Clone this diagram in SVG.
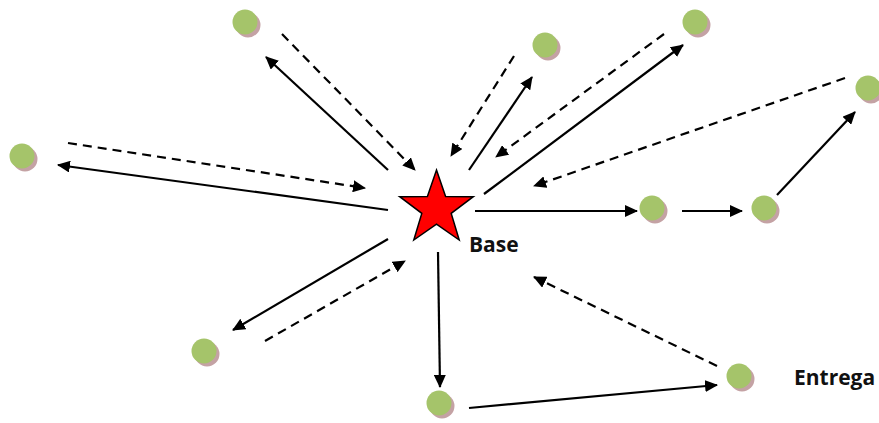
<svg xmlns="http://www.w3.org/2000/svg" width="879" height="423" viewBox="0 0 879 423">
<style>
.sh{fill:#C4A2A4}
.dot{fill:#A5C46A}
.ln{stroke:#000;stroke-width:2.2;fill:none;marker-end:url(#ah)}
.ds{stroke-dasharray:9 6}
.lbl{font-family:"Open Sans","Liberation Sans",sans-serif;font-weight:bold;font-size:21px;fill:#111}
</style>
<defs>
<marker id="ah" viewBox="0 0 13 12" refX="12" refY="6" markerWidth="13" markerHeight="12" markerUnits="userSpaceOnUse" orient="auto">
<path d="M0,0 L13,6 L0,12 z" fill="#000"/>
</marker>
</defs>
<rect width="879" height="423" fill="#fff"/>
<g id="connectors">
<line class="ln" x1="388" y1="170" x2="266" y2="57"/>
<line class="ln ds" x1="282" y1="34" x2="415" y2="170"/>
<line class="ln ds" x1="514" y1="56" x2="451" y2="156"/>
<line class="ln" x1="469" y1="170" x2="532" y2="77"/>
<line class="ln ds" x1="664" y1="34" x2="496" y2="157"/>
<line class="ln" x1="484" y1="194" x2="683" y2="45"/>
<line class="ln ds" x1="845" y1="78" x2="534" y2="186"/>
<line class="ln" x1="777" y1="195" x2="855" y2="112"/>
<line class="ln ds" x1="68" y1="143" x2="365" y2="188"/>
<line class="ln" x1="388" y1="210" x2="58" y2="165"/>
<line class="ln" x1="388" y1="239" x2="233" y2="330"/>
<line class="ln ds" x1="265" y1="341" x2="405" y2="261"/>
<line class="ln" x1="438" y1="252" x2="440" y2="387"/>
<line class="ln" x1="469" y1="408" x2="717" y2="385"/>
<line class="ln ds" x1="717" y1="366" x2="534" y2="277"/>
<line class="ln" x1="475" y1="211" x2="637" y2="211"/>
<line class="ln" x1="682" y1="211" x2="742" y2="211"/>
</g>
<g id="base">
<polygon points="436.5,170 445.6,196.4 473.3,196.7 451.2,213.4 459.2,240 436.5,224.1 413.8,240 421.8,213.4 399.7,196.7 427.4,196.4" fill="#FF0000" stroke="#000" stroke-width="1.5" stroke-linejoin="miter"/>
<text class="lbl" x="469" y="252">Base</text>
</g>
<g id="n1"><circle class="sh" cx="248" cy="25" r="12.5"/><circle class="dot" cx="245" cy="22" r="12.5"/></g>
<g id="n2"><circle class="sh" cx="548" cy="48" r="12.5"/><circle class="dot" cx="545" cy="45" r="12.5"/></g>
<g id="n3"><circle class="sh" cx="698" cy="25" r="12.5"/><circle class="dot" cx="695" cy="22" r="12.5"/></g>
<g id="n4"><circle class="sh" cx="871" cy="91" r="12.5"/><circle class="dot" cx="868" cy="88" r="12.5"/></g>
<g id="n5"><circle class="sh" cx="25" cy="159" r="12.5"/><circle class="dot" cx="22" cy="156" r="12.5"/></g>
<g id="n6"><circle class="sh" cx="655" cy="211" r="12.5"/><circle class="dot" cx="652" cy="208" r="12.5"/></g>
<g id="n7"><circle class="sh" cx="767" cy="211" r="12.5"/><circle class="dot" cx="764" cy="208" r="12.5"/></g>
<g id="n8"><circle class="sh" cx="207" cy="354" r="12.5"/><circle class="dot" cx="204" cy="351" r="12.5"/></g>
<g id="n9"><circle class="sh" cx="442" cy="406" r="12.5"/><circle class="dot" cx="439" cy="403" r="12.5"/></g>
<g id="n10"><circle class="sh" cx="742" cy="379" r="12.5"/><circle class="dot" cx="739" cy="376" r="12.5"/><text class="lbl" x="794" y="385">Entrega</text></g>
</svg>
